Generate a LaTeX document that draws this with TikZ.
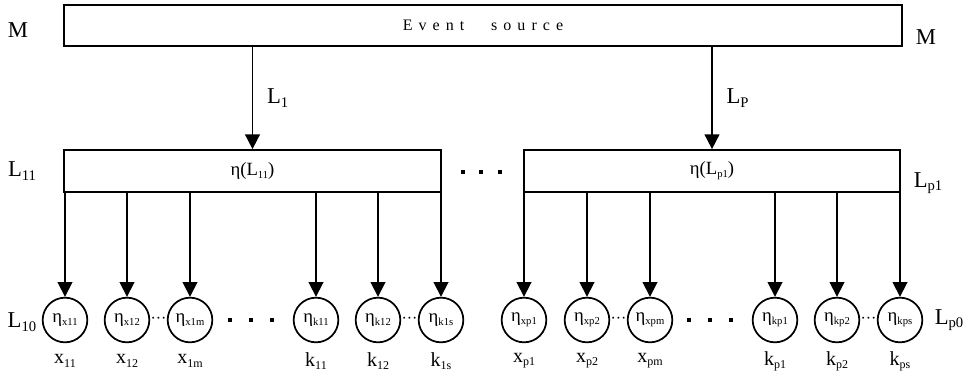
\documentclass[tikz,border=0pt]{standalone}
\usepackage{fontspec}
\setmainfont{Liberation Serif}
\usetikzlibrary{arrows.meta,calc,positioning}

\newcommand\lo[2][8]{\raisebox{-0.35ex}{\fontsize{#1}{#1}\selectfont #2}}

\tikzset{
  box/.style={draw,rectangle,line width=1.3pt,minimum height=31.5pt,inner sep=0pt,font=\fontsize{14}{16}\selectfont},
  leaf/.style={draw,circle,line width=1.3pt,minimum size=33.5pt,inner sep=0pt,font=\fontsize{14}{16}\selectfont},
  arr/.style={line width=1.3pt,-{Triangle[width=11pt,length=11pt]}},
  side/.style={font=\fontsize{17}{20}\selectfont},
  lbl/.style={font=\fontsize{15}{17}\selectfont},
}

\begin{document}
\begin{tikzpicture}[x=0.75pt,y=-0.75pt]
    \useasboundingbox (0,0) rectangle (968,372);

    % event source
    \node[box,minimum width=628.5pt,minimum height=30.75pt] (src) at (483,25.5)
        {\fontsize{12}{14}\selectfont\addfontfeatures{LetterSpace=38}Event\hspace{20pt}source};
    \node[side] (mL) at (18,30) {M};
    \node[side] (mR) at (926,37) {M};

    % second level
    \node[box,minimum width=282.75pt] (bl) at (252.5,171) {η(L\lo{11})};
    \node[box,minimum width=282pt] (bp) at (712,171) {η(L\lo{p1})};
    \draw[arr] (bl.north |- src.south) -- node[side,right=7pt]{L\lo[11]{1}} (bl.north);
    \draw[arr] (bp.north |- src.south) -- node[side,right=7pt]{L\lo[11]{P}} (bp.north);
    \node[side] (l11) at (22,171) {L\lo[11]{11}};
    \node[side] (lp1) at (928,183) {L\lo[11]{p1}};
    \foreach \dx in {463,481,500}
        \fill (\dx-2,170) rectangle (\dx+2,174);

    % leaves
    \foreach \px/\nm/\up/\s/\v/\vs in {65/ex11/bl/x11/x/11, 127/ex12/bl/x12/x/12,
        190/ex1m/bl/x1m/x/1m, 316/ek11/bl/k11/k/11, 378/ek12/bl/k12/k/12,
        441/ek1s/bl/k1s/k/1s, 524/exp1/bp/xp1/x/p1, 587/exp2/bp/xp2/x/p2,
        650/expm/bp/xpm/x/pm, 775/ekp1/bp/kp1/k/p1, 837/ekp2/bp/kp2/k/p2,
        900/ekps/bp/kps/k/ps}{
        \node[leaf] (\nm) at (\px,320) {η\lo{\s}};
        \draw[arr] (\nm.north |- \up.south) -- (\nm.north);
        \node[lbl] (t\nm) at (\px,361) {\v\lo[9]{\vs}};
    }
    \foreach \a/\b in {ex12/ex1m, ek12/ek1s, exp2/expm, ekp2/ekps}
        \node[inner sep=0pt,font=\fontsize{12}{12}\selectfont] at ($(\a)!0.5!(\b)$) {···};
    \foreach \dx in {230,251,272,689,710,731}
        \fill (\dx-2,318) rectangle (\dx+2,322);
    \node[side] (l10) at (22,322) {L\lo[11]{10}};
    \node[side] (lp0) at (949,320) {L\lo[11]{p0}};
\end{tikzpicture}
\end{document}
